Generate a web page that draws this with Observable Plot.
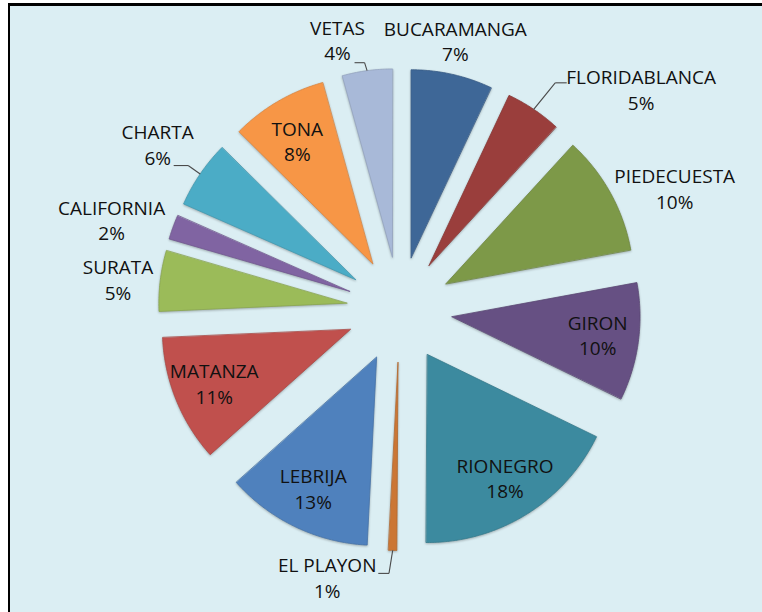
<!DOCTYPE html>
<html>
<head>
<meta charset="utf-8">
<script src="https://cdn.jsdelivr.net/npm/d3@7"></script>
<script src="https://cdn.jsdelivr.net/npm/@observablehq/plot@0.6"></script>
<style>
  html, body { margin: 0; padding: 0; background: #ffffff; width: 762px; height: 612px; overflow: hidden; }
  #frame { position: absolute; left: 8px; top: 3px; width: 760px; height: 612px;
           border-top: 3px solid #000; border-left: 2px solid #000; background: #dbeef3; box-sizing: border-box; }
  #chart { position: absolute; left: 0; top: 0; }
  #chart svg { background: transparent; }
  #chart svg g[aria-label="line"] path { filter: drop-shadow(0.6px 1.2px 1px rgba(0,0,0,0.28)); }
</style>
</head>
<body>
<div id="frame"></div>
<div id="chart"></div>
<script>
// ---- data ----
const municipios = ["BUCARAMANGA", "FLORIDABLANCA", "PIEDECUESTA", "GIRON", "RIONEGRO", "EL PLAYON",
                    "LEBRIJA", "MATANZA", "SURATA", "CALIFORNIA", "CHARTA", "TONA", "VETAS"];
const valores = [7.0, 4.8, 10.3, 10.1, 17.9, 0.7, 12.6, 10.9, 5.2, 2.1, 5.8, 8.3, 4.3];
const colores = ["#3e6797", "#9a3e3c", "#7d9948", "#665083", "#3c8a9f", "#cb7634",
                 "#4f81bd", "#c0504d", "#9bbb59", "#8064a2", "#4bacc6", "#f79646", "#a8b9d8"];

// ---- layout ----
const W = 762, H = 612;
const CX = 399, CY = 309, R = 188, EXPLODE = 53;
const INSIDE_R = 200;
// label placement: radius from pie centre and angular shift from the slice bisector (degrees)
const labelLayout = {
  "BUCARAMANGA": {r: 273, da: -0.8},
  "FLORIDABLANCA": {r: 326, da: 14},
  "PIEDECUESTA": {r: 300, da: 5.5},
  "EL PLAYON": {r: 279, da: 13.4},
  "SURATA": {r: 283, da: -1},
  "CALIFORNIA": {r: 301, da: -3},
  "CHARTA": {r: 292, da: -0.1},
  "TONA": {r: 196, da: -1},
  "VETAS": {r: 275, da: -5.3}
};
// leader lines: elbow offset from the arc touch point, then horizontal run
const leaderLayout = {
  "VETAS": {ex: -2.5, ey: -8, run: -10},
  "FLORIDABLANCA": {ex: 21.5, ey: -26.5, run: 11.5},
  "CHARTA": {ex: -12, ey: -8.5, run: -14.5},
  "EL PLAYON": {ex: -3.7, ey: 23, run: -10.7}
};

const total = d3.sum(valores);
let cum = 0;
const slices = municipios.map((name, i) => {
  const a0 = cum / total * 2 * Math.PI;
  cum += valores[i];
  const a1 = cum / total * 2 * Math.PI;
  const mid = (a0 + a1) / 2;
  const ox = CX + EXPLODE * Math.sin(mid);
  const oy = CY - EXPLODE * Math.cos(mid);
  const edge = d3.color(colores[i]).darker(0.35).formatHex();
  return {name, a0, a1, mid, ox, oy, fill: colores[i], edge,
          pct: Math.round(valores[i] / total * 100) + "%"};
});

// slice outlines (apex + arc)
const slicePts = slices.flatMap(s => {
  const n = Math.max(2, Math.ceil((s.a1 - s.a0) / (Math.PI / 360)));
  const pts = [{name: s.name, x: s.ox, y: s.oy, fill: s.fill, edge: s.edge}];
  for (let k = 0; k <= n; k++) {
    const t = s.a0 + (s.a1 - s.a0) * k / n;
    pts.push({name: s.name, x: s.ox + R * Math.sin(t), y: s.oy - R * Math.cos(t), fill: s.fill, edge: s.edge});
  }
  return pts;
});

// labels
const labels = slices.map(s => {
  const L = labelLayout[s.name];
  const r = L ? L.r : INSIDE_R;
  const a = s.mid + (L ? L.da : 0) * Math.PI / 180;
  return {name: s.name, pct: s.pct, x: CX + r * Math.sin(a), y: CY - r * Math.cos(a)};
});

// leader segments
const leaders = slices.filter(s => leaderLayout[s.name]).flatMap(s => {
  const L = leaderLayout[s.name];
  const tx = CX + (EXPLODE + R) * Math.sin(s.mid), ty = CY - (EXPLODE + R) * Math.cos(s.mid);
  const ex = tx + L.ex, ey = ty + L.ey;
  return [{x1: tx, y1: ty, x2: ex, y2: ey}, {x1: ex, y1: ey, x2: ex + L.run, y2: ey}];
});

const font = "'Open Sans', 'Noto Sans', sans-serif";
const FS = 19, LINE = 25.5;

const chart = Plot.plot({
  width: W, height: H,
  margin: 0,
  x: {domain: [0, W], range: [0, W], axis: null},
  y: {domain: [0, H], range: [0, H], axis: null},
  color: {type: "identity"},
  marks: [
    Plot.line(slicePts, {x: "x", y: "y", z: "name", fill: "fill", stroke: "edge", strokeWidth: 0.8, curve: "linear-closed"}),
    Plot.link(leaders, {x1: "x1", y1: "y1", x2: "x2", y2: "y2", stroke: "#4a4a4a", strokeWidth: 1.1}),
    Plot.text(labels, {x: "x", y: "y", text: "name", dy: -LINE / 2, fontSize: FS, fontFamily: font, fill: "#111111"}),
    Plot.text(labels, {x: "x", y: "y", text: "pct", dy: LINE / 2, fontSize: FS, fontFamily: font, fill: "#111111"})
  ]
});
document.getElementById("chart").appendChild(chart);
</script>
</body>
</html>
